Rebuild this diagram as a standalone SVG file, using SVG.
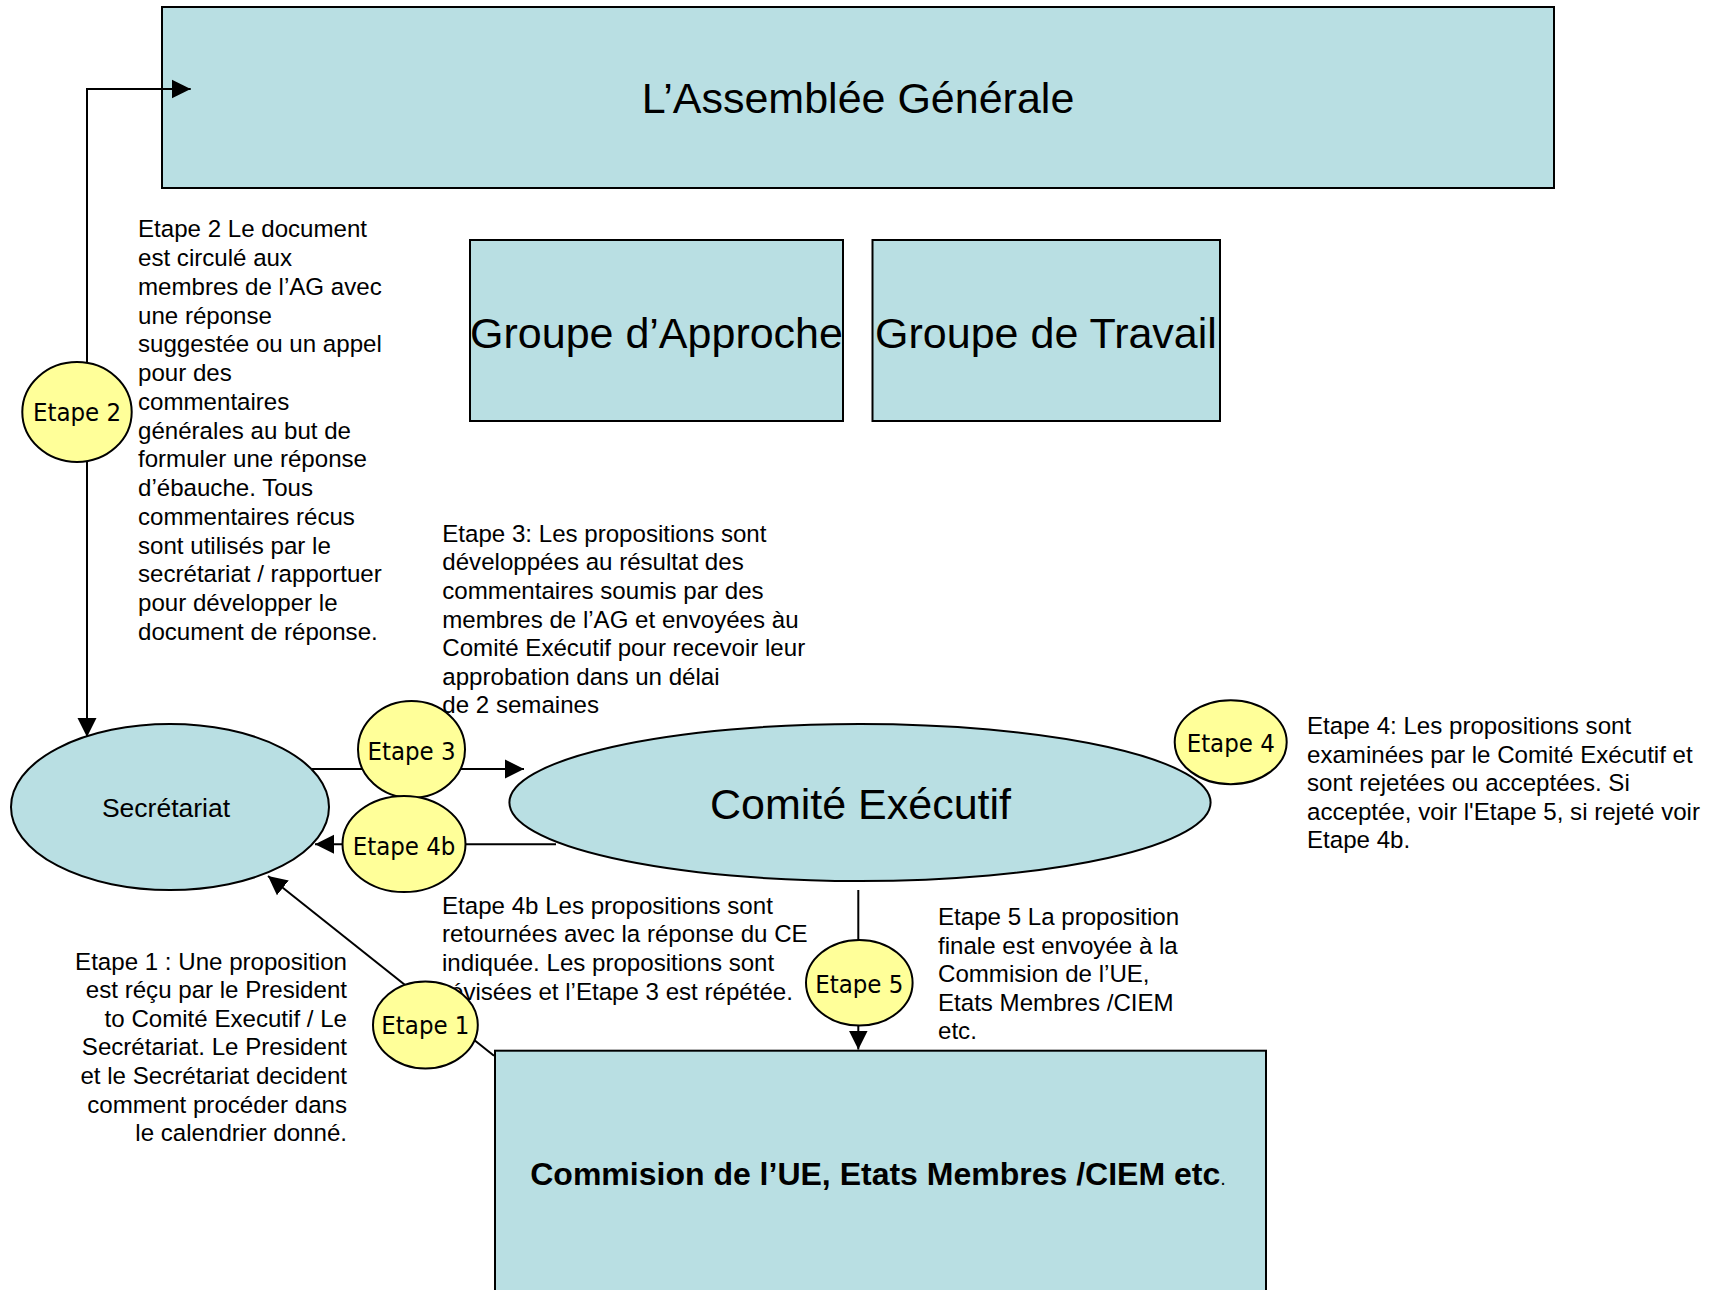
<svg xmlns="http://www.w3.org/2000/svg" width="1710" height="1290" viewBox="0 0 1710 1290">
<defs>
<style>
.box{fill:#B9DFE3;stroke:#000;stroke-width:2}
.step{fill:#FFFF99;stroke:#000;stroke-width:2}
.big{font-family:"Liberation Sans",Arial,sans-serif;font-size:43px;fill:#000;text-anchor:middle}
.lbl{font-family:"DejaVu Sans Condensed","DejaVu Sans",sans-serif;font-stretch:condensed;font-size:25.5px;fill:#000;text-anchor:middle}
.body{font-family:"Liberation Sans",Arial,sans-serif;font-size:24.1px;fill:#000}
.conn{stroke:#000;stroke-width:2;fill:none}
</style>
<marker id="arr" markerUnits="userSpaceOnUse" markerWidth="20" markerHeight="20" viewBox="0 0 20 20" refX="19" refY="10" orient="auto">
<path d="M0,0.5 L19,10 L0,19.5 z" fill="#000"/>
</marker>
</defs>
<rect width="1710" height="1290" fill="#fff"/>

<g id="ag">
<rect class="box" x="162" y="7" width="1392" height="181"/>
<text class="big" x="858" y="113">L’Assemblée Générale</text>
</g>
<g id="groupe-approche">
<rect class="box" x="470" y="240" width="373" height="181"/>
<text class="big" x="656.5" y="348">Groupe d’Approche</text>
</g>
<g id="groupe-travail">
<rect class="box" x="872.5" y="240" width="347.5" height="181"/>
<text class="big" x="1046" y="348">Groupe de Travail</text>
</g>

<g id="text-etape2" class="body">
<text x="138" y="237.3">Etape 2 Le document</text>
<text x="138" y="266">est circulé aux</text>
<text x="138" y="294.8">membres de l’AG avec</text>
<text x="138" y="323.5">une réponse</text>
<text x="138" y="352.3">suggestée ou un appel</text>
<text x="138" y="381">pour des</text>
<text x="138" y="409.8">commentaires</text>
<text x="138" y="438.5">générales au but de</text>
<text x="138" y="467.3">formuler une réponse</text>
<text x="138" y="496">d’ébauche. Tous</text>
<text x="138" y="524.8">commentaires récus</text>
<text x="138" y="553.5">sont utilisés par le</text>
<text x="138" y="582.3">secrétariat / rapportuer</text>
<text x="138" y="611">pour développer le</text>
<text x="138" y="639.8">document de réponse.</text>
</g>

<g id="text-etape4b" class="body">
<text x="442" y="913.7">Etape 4b Les propositions sont</text>
<text x="442" y="942.3">retournées avec la réponse du CE</text>
<text x="442" y="970.9">indiquée. Les propositions sont</text>
<text x="442" y="999.5">révisées et l’Etape 3 est répétée.</text>
</g>

<g id="text-etape4" class="body">
<text x="1307" y="734">Etape 4: Les propositions sont</text>
<text x="1307" y="762.6">examinées par le Comité Exécutif et</text>
<text x="1307" y="791.2">sont rejetées ou acceptées. Si</text>
<text x="1307" y="819.8">acceptée, voir l'Etape 5, si rejeté voir</text>
<text x="1307" y="848.4">Etape 4b.</text>
</g>

<g id="text-etape5" class="body">
<text x="938" y="925">Etape 5 La proposition</text>
<text x="938" y="953.5">finale est envoyée à la</text>
<text x="938" y="982">Commision de l’UE,</text>
<text x="938" y="1010.5">Etats Membres /CIEM</text>
<text x="938" y="1039">etc.</text>
</g>

<g id="text-etape1" class="body" text-anchor="end">
<text x="347" y="969.5">Etape 1 : Une proposition</text>
<text x="347" y="998.1">est réçu par le President</text>
<text x="347" y="1026.7">to Comité Executif / Le</text>
<text x="347" y="1055.3">Secrétariat. Le President</text>
<text x="347" y="1083.9">et le Secrétariat decident</text>
<text x="347" y="1112.5">comment procéder dans</text>
<text x="347" y="1141.1">le calendrier donné.</text>
</g>

<g id="connectors">
<polyline class="conn" points="87,450 87,89 190.7,89" marker-end="url(#arr)"/>
<line class="conn" x1="87" y1="400" x2="87" y2="737" marker-end="url(#arr)"/>
<line class="conn" x1="312" y1="769" x2="524" y2="769" marker-end="url(#arr)"/>
<line class="conn" x1="556" y1="844.3" x2="315" y2="844.3" marker-end="url(#arr)"/>
<line class="conn" x1="858.3" y1="890" x2="858.3" y2="1049.5" marker-end="url(#arr)"/>
<line class="conn" x1="494" y1="1055.7" x2="268" y2="876" marker-end="url(#arr)"/>
</g>

<g id="secretariat">
<ellipse class="box" cx="170" cy="807" rx="159" ry="83"/>
<text x="166" y="817" font-family="Liberation Sans, Arial, sans-serif" font-size="26.5" text-anchor="middle">Secrétariat</text>
</g>
<g id="comite-executif">
<ellipse class="box" cx="860" cy="802.5" rx="350.6" ry="78.5"/>
<text class="big" x="860.5" y="819">Comité Exécutif</text>
</g>
<g id="commission">
<rect class="box" x="495" y="1050.7" width="771" height="260"/>
<text x="878" y="1185" font-family="Liberation Sans, Arial, sans-serif" font-size="32" font-weight="bold" text-anchor="middle">Commision de l’UE, Etats Membres /CIEM etc<tspan font-weight="normal" font-size="20">.</tspan></text>
</g>

<g id="etape2">
<ellipse class="step" cx="77" cy="412" rx="54.7" ry="50"/>
<text class="lbl" x="77" y="421">Etape 2</text>
</g>
<g id="etape3">
<ellipse class="step" cx="411.5" cy="749.5" rx="53.5" ry="48.5"/>
<text class="lbl" x="411.5" y="760">Etape 3</text>
</g>
<g id="etape4b">
<ellipse class="step" cx="404" cy="844" rx="61.5" ry="48"/>
<text class="lbl" x="404" y="855">Etape 4b</text>
</g>
<g id="etape4">
<ellipse class="step" cx="1230.7" cy="742.2" rx="56" ry="42"/>
<text class="lbl" x="1230.7" y="752">Etape 4</text>
</g>
<g id="etape5">
<ellipse class="step" cx="859.3" cy="982.8" rx="53.3" ry="42.8"/>
<text class="lbl" x="859.3" y="992.7">Etape 5</text>
</g>
<g id="etape1">
<ellipse class="step" cx="425.4" cy="1025" rx="52.4" ry="43.6"/>
<text class="lbl" x="425.4" y="1034">Etape 1</text>
</g>

<g id="text-etape3" class="body">
<text x="442.3" y="541.7">Etape 3: Les propositions sont</text>
<text x="442.3" y="570.3">développées au résultat des</text>
<text x="442.3" y="598.9">commentaires soumis par des</text>
<text x="442.3" y="627.5">membres de l’AG et envoyées àu</text>
<text x="442.3" y="656.1">Comité Exécutif pour recevoir leur</text>
<text x="442.3" y="684.7">approbation dans un délai</text>
<text x="442.3" y="713.3">de 2 semaines</text>
</g>
</svg>
